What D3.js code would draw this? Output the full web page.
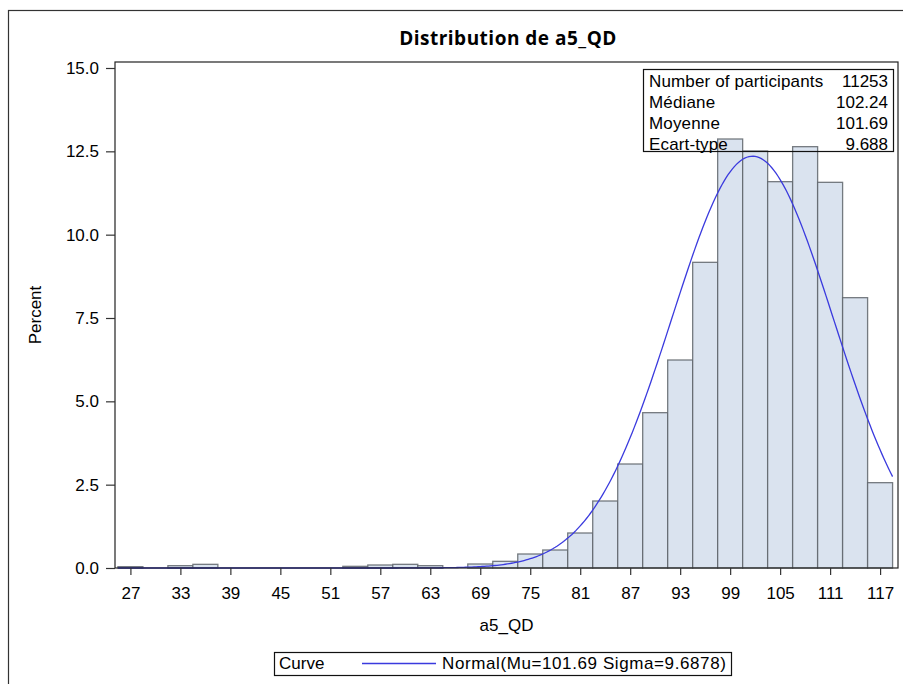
<!DOCTYPE html>
<html>
<head>
<meta charset="utf-8">
<script src="https://cdn.jsdelivr.net/npm/d3@7"></script>
<style>
  body { margin: 0; background: #fff; }
  text { font-family: 'Liberation Sans', Arial, sans-serif; fill: #000; }
</style>
</head>
<body>
<svg id="canvas"></svg>
<script>
// histogram bins (mid points, width 3) and percent per bin
const binMids = [27, 30, 33, 36, 39, 42, 45, 48, 51, 54, 57, 60, 63, 66, 69, 72, 75, 78, 81, 84, 87, 90, 93, 96, 99, 102, 105, 108, 111, 114, 117]
const percents = [0.04, 0, 0.07, 0.11, 0, 0, 0, 0, 0, 0.05, 0.09, 0.11, 0.07, 0, 0.12, 0.20, 0.42, 0.54, 1.05, 2.01, 3.12, 4.66, 6.24, 9.17, 12.87, 12.51, 11.59, 12.64, 11.57, 8.11, 2.56]
const binWidth = 3

const xTicks = [27, 33, 39, 45, 51, 57, 63, 69, 75, 81, 87, 93, 99, 105, 111, 117]
const yTicks = [0, 2.5, 5, 7.5, 10, 12.5, 15]

// fitted normal curve parameters
const mu = 101.69
const sigma = 9.6878

const statLabels = ['Number of participants', 'Médiane', 'Moyenne', 'Ecart-type']
const statValues = ['11253', '102.24', '101.69', '9.688']

const W = 903, H = 684
const plot = { left: 115, top: 62, right: 898, bottom: 568 }

const svg = d3.select('#canvas').attr('width', W).attr('height', H)

// outer frame (cropped at right and bottom)
svg.append('rect')
    .attr('x', 8.5).attr('y', 10.5).attr('width', 1000).attr('height', 1000)
    .attr('fill', 'none').attr('stroke', '#333').attr('stroke-width', 1.2)

const x = d3.scaleLinear().domain([25.15, 119.15]).range([plot.left, plot.right])
const y = d3.scaleLinear().domain([0, 15.18]).range([plot.bottom, plot.top])

const bins = binMids.map((m, i) => ({ mid: m, pct: percents[i] })).filter(d => d.pct > 0)

svg.append('g').selectAll('rect')
    .data(bins)
    .enter()
    .append('rect')
        .attr('x', d => x(d.mid - binWidth / 2))
        .attr('y', d => y(d.pct))
        .attr('width', d => x(d.mid + binWidth / 2) - x(d.mid - binWidth / 2))
        .attr('height', d => y(0) - y(d.pct))
        .attr('fill', '#dae3ef')
        .attr('stroke', '#5f656b')
        .attr('stroke-opacity', 0.85)
        .attr('stroke-width', 1.3)

// normal density scaled to percent per bin
const density = v => 100 * binWidth * Math.exp(-0.5 * ((v - mu) / sigma) ** 2) / (sigma * Math.sqrt(2 * Math.PI))
const curvePts = d3.range(25.5, 118.5001, 0.25).map(v => [v, density(v)])

svg.append('path')
    .datum(curvePts)
    .attr('fill', 'none')
    .attr('stroke', '#3a3ade')
    .attr('stroke-width', 1.3)
    .attr('d', d3.line().x(d => x(d[0])).y(d => y(d[1])))

// plot frame
svg.append('rect')
    .attr('x', plot.left).attr('y', plot.top)
    .attr('width', plot.right - plot.left).attr('height', plot.bottom - plot.top)
    .attr('fill', 'none').attr('stroke', '#222').attr('stroke-width', 1.2)

const yAxis = svg.append('g')
    .attr('transform', `translate(${plot.left},0)`)
    .call(d3.axisLeft(y).tickValues(yTicks).tickFormat(d3.format('.1f')).tickSize(9).tickPadding(7))
const xAxis = svg.append('g')
    .attr('transform', `translate(0,${plot.bottom})`)
    .call(d3.axisBottom(x).tickValues(xTicks).tickSize(7).tickPadding(12))

;[yAxis, xAxis].forEach(a => {
    a.select('.domain').remove()
    a.selectAll('line').attr('stroke', '#333').attr('stroke-width', 1.2)
    a.selectAll('text').attr('font-size', 17).attr('fill', '#111')
        .style('font-family', "'Liberation Sans', Arial, sans-serif")
})

// title and axis labels
svg.append('text')
    .attr('x', 508).attr('y', 44.5)
    .attr('text-anchor', 'middle')
    .attr('font-size', 19).attr('font-weight', 'bold')
    .attr('letter-spacing', 0.5)
    .style('font-family', "'Open Sans', sans-serif")
    .text('Distribution de a5_QD')

svg.append('text')
    .attr('x', (plot.left + plot.right) / 2).attr('y', 631)
    .attr('text-anchor', 'middle').attr('font-size', 17)
    .text('a5_QD')

svg.append('text')
    .attr('transform', `translate(41,${(plot.top + plot.bottom) / 2}) rotate(-90)`)
    .attr('text-anchor', 'middle').attr('font-size', 17)
    .text('Percent')

// stats inset
const stats = svg.append('g')
stats.append('rect')
    .attr('x', 643.5).attr('y', 69.5).attr('width', 250).attr('height', 82)
    .attr('fill', 'none').attr('stroke', '#111').attr('stroke-width', 1.2)
stats.selectAll('text.lab')
    .data(statLabels)
    .enter()
    .append('text')
        .attr('class', 'lab')
        .attr('x', 649).attr('y', (d, i) => 86.7 + i * 21.1)
        .attr('font-size', 17).attr('letter-spacing', 0.15)
        .text(d => d)
stats.selectAll('text.val')
    .data(statValues)
    .enter()
    .append('text')
        .attr('class', 'val')
        .attr('x', 888).attr('y', (d, i) => 86.7 + i * 21.1)
        .attr('text-anchor', 'end').attr('font-size', 17)
        .text(d => d)

// legend
const legend = svg.append('g')
legend.append('rect')
    .attr('x', 274.5).attr('y', 652.5).attr('width', 457).attr('height', 23)
    .attr('fill', 'none').attr('stroke', '#111').attr('stroke-width', 1.2)
legend.append('text').attr('x', 279).attr('y', 668.5).attr('font-size', 17).text('Curve')
legend.append('line')
    .attr('x1', 362).attr('x2', 436).attr('y1', 663.5).attr('y2', 663.5)
    .attr('stroke', '#3a3ade').attr('stroke-width', 1.3)
legend.append('text').attr('x', 442).attr('y', 668.5).attr('font-size', 17)
    .attr('letter-spacing', 0.6)
    .text(`Normal(Mu=${mu} Sigma=${sigma})`)
</script>
</body>
</html>
